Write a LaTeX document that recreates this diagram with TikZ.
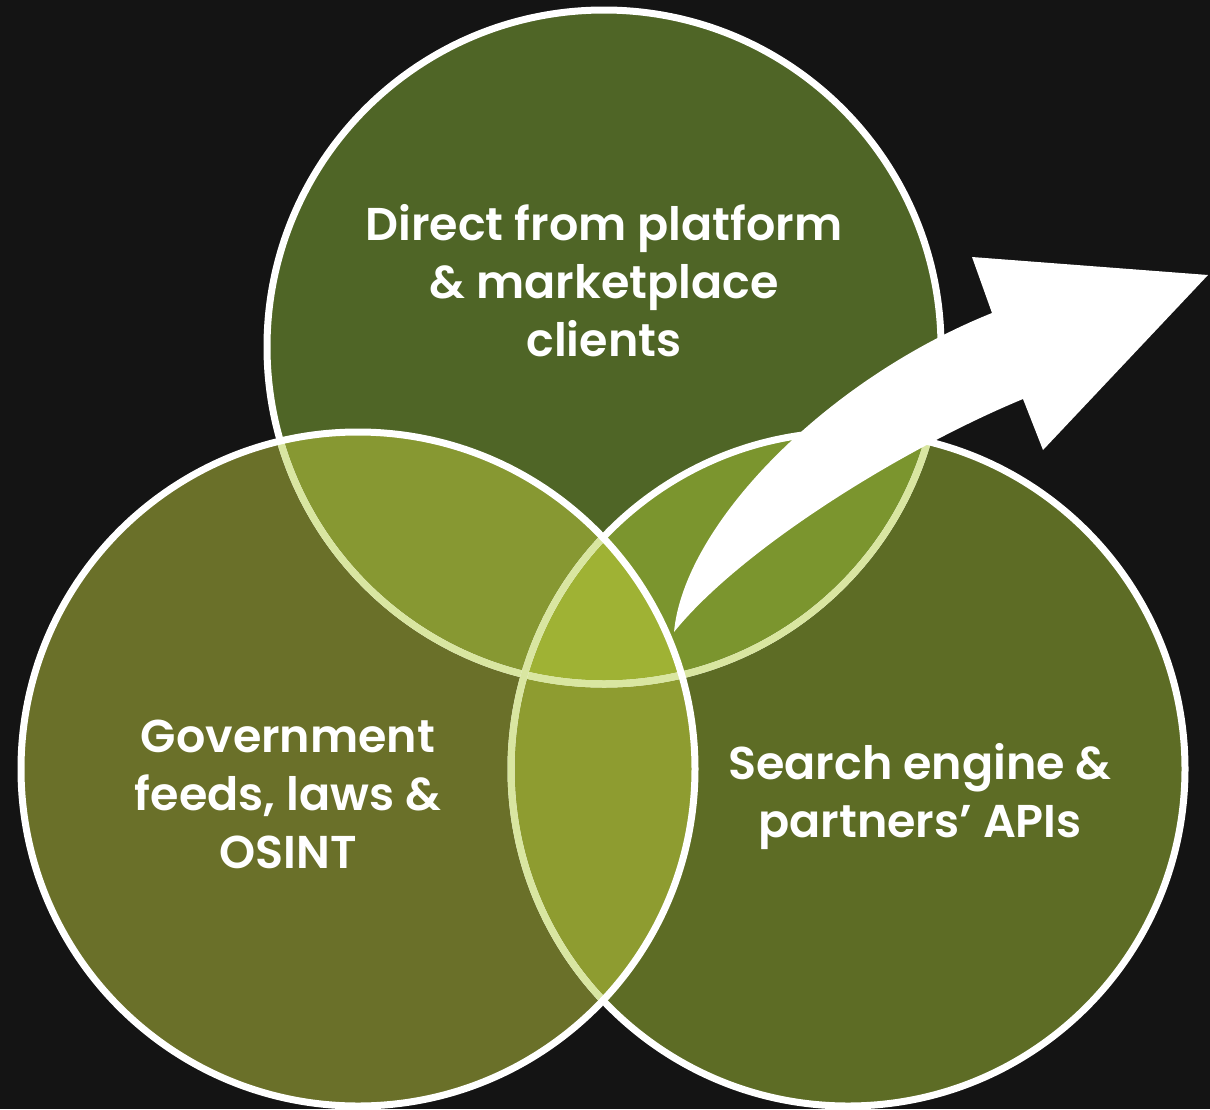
\documentclass[tikz,border=0pt]{standalone}
\usepackage{fontspec}
\setmainfont{Poppins}[BoldFont={* SemiBold}]
\usepackage{xcolor}

\definecolor{bg}{HTML}{141414}
\definecolor{topfill}{HTML}{4F6526}
\definecolor{leftfill}{HTML}{6A7029}
\definecolor{rightfill}{HTML}{5D6C25}
\definecolor{tlfill}{HTML}{879832}
\definecolor{trfill}{HTML}{7B952E}
\definecolor{lrfill}{HTML}{8E9C30}
\definecolor{midfill}{HTML}{9FB234}
\definecolor{ringlight}{HTML}{D9E6A1}

\begin{document}
\begin{tikzpicture}[x=0.5pt, y=-0.5pt,
        ring/.style={line width=3.5pt,draw=white},
        innerring/.style={line width=3.5pt,draw=ringlight},
        venntext/.style={text=white,align=center,
      font=\fontsize{23}{29}\selectfont\bfseries}]

	\fill [bg] (0,0) rectangle (1210,1109);
        \useasboundingbox (0,0) rectangle (1210,1109);

        \coordinate (ctop)   at (604,347);
        \coordinate (cleft)  at (358,769);
        \coordinate (cright) at (848,769);

        % discs
        \fill [topfill]   (ctop)   circle (337);
        \fill [rightfill] (cright) circle (337);
        \fill [leftfill]  (cleft)  circle (337);

        % overlaps
        \begin{scope}
          \clip (ctop) circle (337);
          \fill [tlfill] (cleft) circle (337);
          \fill [trfill] (cright) circle (337);
        \end{scope}
        \begin{scope}
          \clip (cleft) circle (337);
          \fill [lrfill] (cright) circle (337);
          \clip (ctop) circle (337);
          \fill [midfill] (cright) circle (337);
        \end{scope}

        % outlines
        \draw [ring] (ctop) circle (337);
        \begin{scope}
          \clip (cright) circle (337);
          \draw [innerring] (ctop) circle (337);
        \end{scope}
        \begin{scope}
          \clip (cleft) circle (337);
          \draw [innerring] (ctop) circle (337);
        \end{scope}
        \draw [ring] (cright) circle (337);
        \begin{scope}
          \clip (cleft) circle (337);
          \draw [innerring] (cright) circle (337);
        \end{scope}
        \draw [ring] (cleft) circle (337);

        % arrow
        \fill [white] (674,632) .. controls (684,525) and (825,380) .. (992,313)
              -- (972,257) -- (1208,275) -- (1043,450) -- (1023,399)
              .. controls (900,450) and (740,550) .. (674,632) -- cycle;

        \node [venntext] (t1) at (604,281) {Direct from platform\\\& marketplace\\clients};
        \node [venntext] (t2) at (288,794) {Government\\feeds, laws \&\\OSINT};
        \node [venntext] (t3) at (920,797) {Search engine \&\\partners’ APIs};
\end{tikzpicture}
\end{document}
